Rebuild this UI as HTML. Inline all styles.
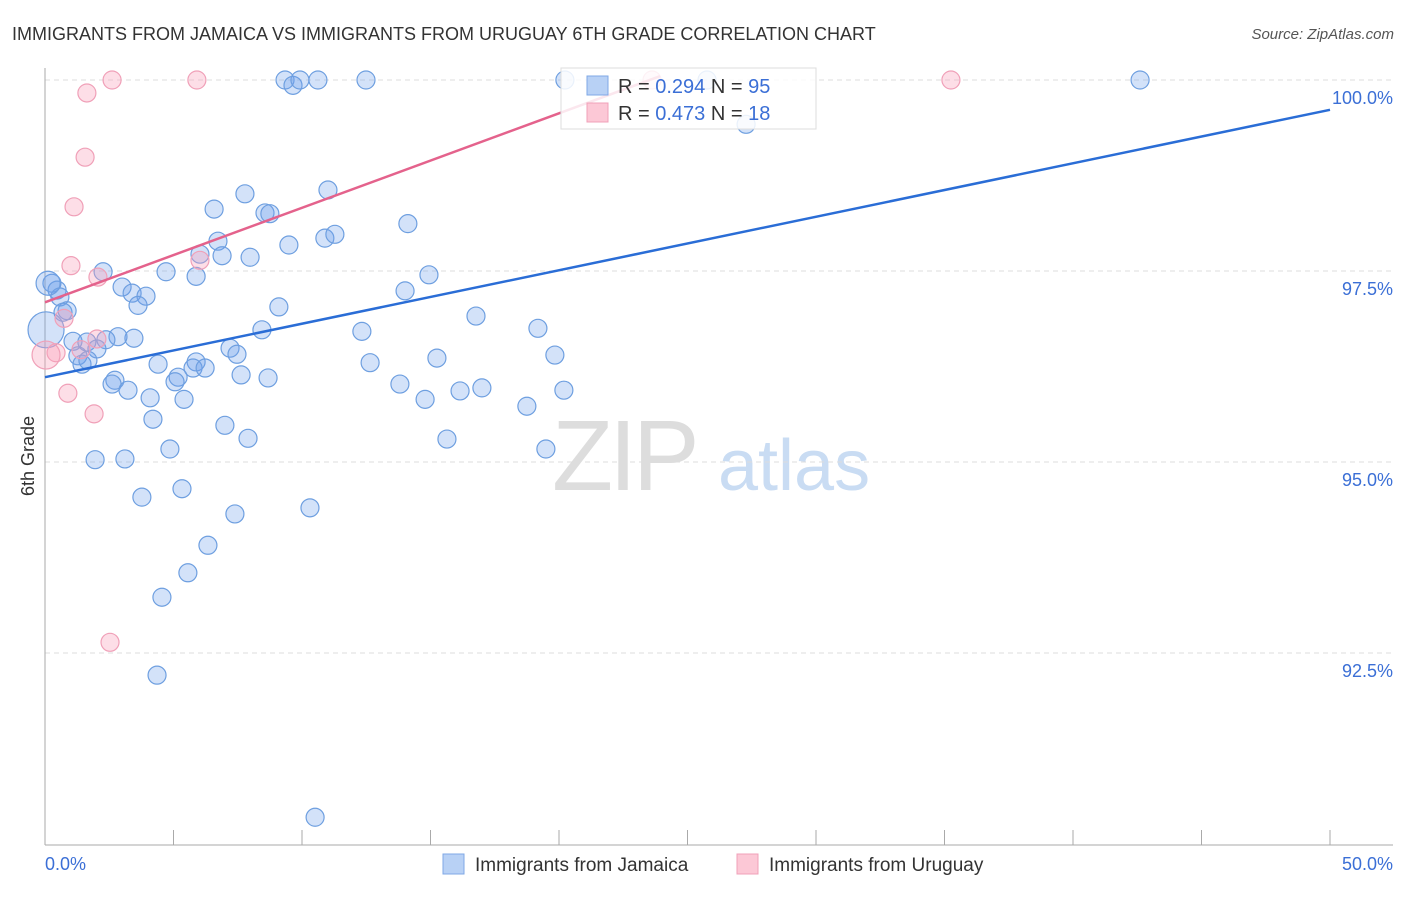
<!DOCTYPE html>
<html><head><meta charset="utf-8"><style>
body{margin:0;background:#fff;font-family:"Liberation Sans",sans-serif;}
svg text{font-family:"Liberation Sans",sans-serif;}
</style></head><body>
<svg id="chart" width="1406" height="892" xmlns="http://www.w3.org/2000/svg">
<text x="12" y="40" font-size="18" fill="#333">IMMIGRANTS FROM JAMAICA VS IMMIGRANTS FROM URUGUAY 6TH GRADE CORRELATION CHART</text>
<text x="1394" y="39" font-size="15" fill="#555" text-anchor="end" font-style="italic">Source: ZipAtlas.com</text>
<g>
<text x="552" y="490" font-size="100" fill="#ddd" font-family="Liberation Serif" letter-spacing="-4">ZIP</text>
<text x="718" y="490" font-size="72" fill="#c9dcf3">atlas</text>
</g>
<g id="grid"></g>
<g id="axes"></g>
<g id="marks"></g>
<g>
<rect x="561" y="68" width="255" height="61" fill="#fff" fill-opacity="0.85" stroke="#ddd"/>
<rect x="587" y="76" width="21" height="19" fill="#b8d1f5" stroke="#7fa8e6"/>
<text x="618" y="93" font-size="20" fill="#333">R = <tspan fill="#3b6fd6">0.294</tspan>   N = <tspan fill="#3b6fd6">95</tspan></text>
<rect x="587" y="103" width="21" height="19" fill="#fcc8d6" stroke="#f0a0b8"/>
<text x="618" y="120" font-size="20" fill="#333">R = <tspan fill="#3b6fd6">0.473</tspan>   N = <tspan fill="#3b6fd6"> 18</tspan></text>
</g>
<g>
<rect x="443" y="854" width="21" height="20" fill="#b8d1f5" stroke="#7fa8e6"/>
<text x="475" y="871" font-size="19" fill="#333">Immigrants from Jamaica</text>
<rect x="737" y="854" width="21" height="20" fill="#fcc8d6" stroke="#f0a0b8"/>
<text x="769" y="871" font-size="19" fill="#333">Immigrants from Uruguay</text>
</g>
<text transform="translate(34,456) rotate(-90)" font-size="18" fill="#333" text-anchor="middle">6th Grade</text>
</svg>
<script>
const yTicks=[100,97.5,95,92.5];
const yTickLabels=["100.0%","97.5%","95.0%","92.5%"];
const xTickLabels=["0.0%","50.0%"];
const jamX=[9.34,9.65,9.92,10.62,12.49,20.23,25.76,42.61,27.28,7.78,11.01,6.58,8.56,8.75,14.12,6.73,9.49,10.89,11.28,6.03,6.89,7.98,2.26,4.71,5.88,14.94,0.27,0.47,0.58,3.00,3.39,3.93,14.01,3.62,9.10,0.86,0.70,16.77,8.44,12.33,19.18,3.46,2.84,2.37,1.09,1.63,2.02,7.20,7.47,1.28,1.44,1.67,19.84,15.25,12.65,4.40,5.88,5.76,6.23,5.18,5.06,7.63,8.68,2.72,2.61,3.23,13.81,17.00,16.15,14.79,20.19,4.09,5.41,18.75,4.20,7.00,7.90,15.64,4.86,19.49,1.95,3.11,3.77,5.33,10.31,7.39,6.34,5.56,4.55,4.36,10.51,0.12,0.04];
const jamY=[100,99.93,100,100,100,100,100,100,99.42,98.51,98.56,98.31,98.26,98.25,98.12,97.89,97.84,97.93,97.98,97.72,97.70,97.68,97.49,97.49,97.43,97.45,97.34,97.25,97.16,97.29,97.21,97.17,97.24,97.05,97.03,96.98,96.96,96.91,96.73,96.71,96.75,96.62,96.64,96.60,96.58,96.57,96.48,96.49,96.41,96.39,96.28,96.33,96.40,96.36,96.30,96.28,96.31,96.23,96.23,96.11,96.05,96.14,96.10,96.07,96.02,95.94,96.02,95.97,95.93,95.82,95.94,95.84,95.82,95.73,95.56,95.48,95.31,95.30,95.17,95.17,95.03,95.04,94.54,94.65,94.40,94.32,93.91,93.55,93.23,92.21,90.35,97.34,96.73];
const jamBig=[91,92];
const uruX=[2.61,5.91,23.62,35.25,1.63,1.56,1.13,1.01,2.06,6.03,0.74,2.02,1.40,0.43,0.04,0.89,1.91,2.53];
const uruY=[100,100,100,100,99.83,98.99,98.34,97.57,97.42,97.64,96.88,96.61,96.47,96.43,96.40,95.90,95.63,92.64];
const uruBig=[14];
const jamTrend=[96.11,99.61];
const uruTrend=[97.09,100.05,23.93];
const NS="http://www.w3.org/2000/svg";
const X0=45,X1=1330,YT=80,PPU=76.4;
const sx=v=>X0+(v/50)*(X1-X0);
const sy=v=>YT+(100-v)*PPU;
function mk(tag,attrs,parent){const e=document.createElementNS(NS,tag);for(const k in attrs)e.setAttribute(k,attrs[k]);parent.appendChild(e);return e;}
const grid=document.getElementById('grid'),axes=document.getElementById('axes'),marks=document.getElementById('marks');
yTicks.forEach((t,i)=>{
 const l=mk('line',{x1:45,x2:1393,y1:sy(t),y2:sy(t),stroke:'#ddd','stroke-dasharray':'5,4'},grid);
 
 
 const tx=mk('text',{x:1393,y:sy(t)+24,'font-size':18,fill:'#3b6fd6','text-anchor':'end'},axes);
 tx.textContent=yTickLabels[i];
 
 
});
const ya=mk('line',{x1:45,x2:45,y1:68,y2:845,stroke:'#aaa'},axes);


const xa=mk('line',{x1:45,x2:1393,y1:845,y2:845,stroke:'#aaa'},axes);


for(let i=0;i<=10;i++){
 const t=mk('line',{x1:sx(i*5),x2:sx(i*5),y1:830,y2:845,stroke:'#aaa'},axes);
 
 
}
const xl0=mk('text',{x:45,y:870,'font-size':18,fill:'#3b6fd6'},axes);xl0.textContent=xTickLabels[0];


const xl1=mk('text',{x:1393,y:870,'font-size':18,fill:'#3b6fd6','text-anchor':'end'},axes);xl1.textContent=xTickLabels[1];


jamX.forEach((x,i)=>{
 const big=jamBig.includes(i);
 const c=mk('circle',{cx:sx(x),cy:sy(jamY[i]),r:big?(i==92?18:12):9,fill:'rgba(110,160,235,0.3)',stroke:'#6e9fe0','stroke-width':1.2},marks);
 
 
});
uruX.forEach((x,i)=>{
 const big=uruBig.includes(i);
 const c=mk('circle',{cx:sx(x),cy:sy(uruY[i]),r:big?14:9,fill:'rgba(248,160,185,0.35)',stroke:'#f0a0b8','stroke-width':1.2},marks);
 
 
});
const jl=mk('line',{x1:sx(0),y1:sy(jamTrend[0]),x2:sx(50),y2:sy(jamTrend[1]),stroke:'#2a6dd6','stroke-width':2.5},marks);


const ul=mk('line',{x1:sx(0),y1:sy(uruTrend[0]),x2:sx(uruTrend[2]),y2:sy(uruTrend[1]),stroke:'#e4628c','stroke-width':2.5},marks);


</script>
</body></html>
